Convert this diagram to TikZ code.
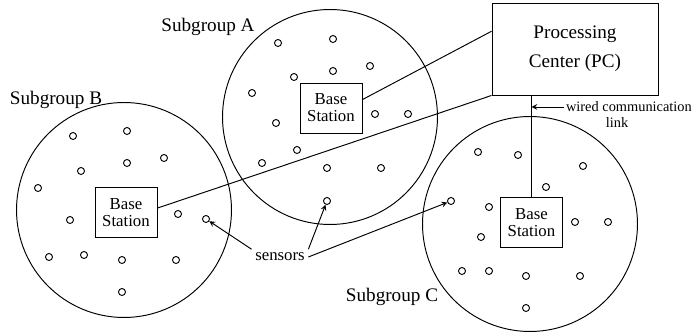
\documentclass[tikz,border=0pt]{standalone}
\usepackage{fontspec}
\setmainfont{Liberation Serif}
\usetikzlibrary{positioning}

\tikzset{
    group/.style = {draw, circle, minimum size = 4.73cm, inner sep = 0},
    sensor/.style = {draw, circle, minimum size = 0.154cm, inner sep = 0},
    station/.style = {draw, minimum width = 1.364cm, minimum height = 1.1cm, inner sep = 0,
        align = center, font = \fontsize{10.5}{10.6}\selectfont},
}

\begin{document}
\begin{tikzpicture}[x = 0.022cm, y = -0.022cm, line width = 0.6pt]

        \useasboundingbox (0, 0) rectangle (699, 333);

        % Subgroups
        \node (grpA) [group] at (330, 117) {};
        \node (grpB) [group] at (124, 210) {};
        \node (grpC) [group] at (530, 224) {};

        \node (labA) [font = \fontsize{12}{14}\selectfont] at (208, 27) {Subgroup A};
        \node (labB) [font = \fontsize{12}{14}\selectfont] at (56, 100) {Subgroup B};
        \node (labC) [font = \fontsize{12}{14}\selectfont] at (392, 297) {Subgroup C};

        %% Sensors
        \foreach \p [count = \i] in {(278, 43), (333, 39), (333, 71), (370, 66), (294, 77),
            (252, 93), (276, 123), (375, 114), (408, 114), (297, 150), (262, 163),
            (327, 168), (381, 168), (327, 201)}
            \node (sA\i) [sensor] at \p {};
        \foreach \p [count = \i] in {(73, 136), (127, 131), (127, 163), (164, 158), (81, 171),
            (38, 188), (70, 220), (178, 214), (206, 219), (49, 257), (84, 255),
            (122, 260), (176, 260), (122, 292)}
            \node (sB\i) [sensor] at \p {};
        \foreach \p [count = \i] in {(478, 152), (518, 155), (583, 166), (546, 187), (451, 201),
            (489, 207), (481, 237), (575, 222), (608, 222), (462, 271), (489, 271),
            (526, 276), (580, 276), (526, 308)}
            \node (sC\i) [sensor] at \p {};

        %% Base stations
        \node (bsA) [station] at (331, 108) {Base\\Station};
        \node (bsB) [station] at (126, 212.5) {Base\\Station};
        \node (bsC) [station] at (531.5, 222.5) {Base\\Station};

        % Processing center
        \node (pc) [draw, minimum width = 3.652cm, minimum height = 2.024cm, align = center,
            font = \fontsize{12}{18.1}\selectfont] at (575, 49) {Processing\\Center (PC)};

        \draw (bsA.15) -- (pc.168);
        \draw (bsB.8) -- (pc.south west);
        \draw (bsC.north) -- (bsC.north |- pc.south);

        %% Wired link
        \node (wire) [anchor = west, inner sep = 1pt, font = \fontsize{9}{10}\selectfont]
            at (564, 107) {wired communication};
        \node (link) [inner sep = 1pt, font = \fontsize{9}{10}\selectfont] at (617, 123) {link};
        \draw [-stealth] (wire.west) -- (bsC.north |- wire.west);

        % Sensors label
        \node (sens) [inner sep = 2pt, font = \fontsize{10.5}{12}\selectfont] at (280, 257) {sensors};
        \draw [-stealth] (sens.north west) -- (sB9);
        \draw [-stealth] (sens.north east) -- (sA14);
        \draw [-stealth] (sens.east) -- (sC5);

    \end{tikzpicture}
\end{document}
